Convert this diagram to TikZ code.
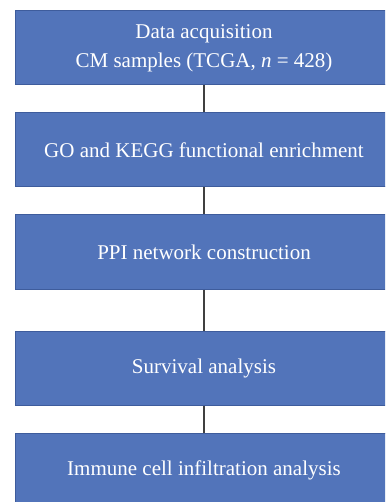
\documentclass[tikz,border=0pt]{standalone}
\usepackage{fontspec}
\setmainfont{Liberation Serif}
\definecolor{boxfill}{RGB}{82,116,186}
\definecolor{boxline}{RGB}{62,92,156}
\definecolor{conn}{RGB}{64,64,64}
\begin{document}
\begin{tikzpicture}[x=1pt,y=-1pt,
  stepbox/.style={draw=boxline,line width=1pt,fill=boxfill,text=white,
    minimum width=378pt,minimum height=74pt,inner sep=0pt,align=center,
    font=\fontsize{21}{29}\selectfont},
  link/.style={draw=conn,line width=1.3pt}]
\useasboundingbox (0,0) rectangle (385,502);
\clip (0,0) rectangle (385,502);
\node[stepbox] (a) at (204,48) {Data acquisition\\CM samples (TCGA, \textit{n} = 428)};
\node[stepbox] (b) at (204,150) {GO and KEGG functional enrichment};
\node[stepbox] (c) at (204,252) {PPI network construction};
\node[stepbox] (d) at (204,368) {Survival analysis};
\node[stepbox] (e) at (204,470) {Immune cell infiltration analysis};
\draw[link] (a) -- (b);
\draw[link] (b) -- (c);
\draw[link] (c) -- (d);
\draw[link] (d) -- (e);
\end{tikzpicture}
\end{document}
